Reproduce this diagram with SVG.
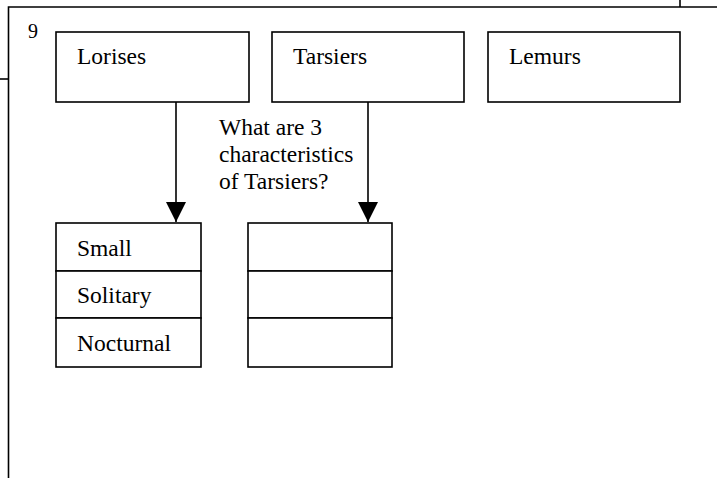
<svg xmlns="http://www.w3.org/2000/svg" width="717" height="478" viewBox="0 0 717 478">
<style>
.box{fill:#fff;stroke:#000;stroke-width:1.6}
.ln{fill:none;stroke:#000;stroke-width:1.6}
text{font-family:"Liberation Serif","Times New Roman",serif;font-size:23.5px;fill:#000}
</style>
<defs>
<marker id="arr" markerWidth="20" markerHeight="20" refX="20" refY="10" orient="auto" markerUnits="userSpaceOnUse">
<path d="M0,0 L20,10 L0,20 Z" fill="#000"/>
</marker>
</defs>
<g id="frame">
<path class="ln" d="M8.5,478 L8.5,7 L717,7"/>
<path class="ln" d="M680,0 L680,7"/>
<path class="ln" d="M0,79 L8.5,79"/>
<text x="28" y="38" style="font-size:20px">9</text>
</g>
<g id="connectors">
<line class="ln" x1="176" y1="102" x2="176" y2="222" marker-end="url(#arr)"/>
<line class="ln" x1="368" y1="102" x2="368" y2="222" marker-end="url(#arr)"/>
</g>
<g id="lorises">
<rect class="box" x="56" y="32" width="193" height="70"/>
<text x="77" y="64">Lorises</text>
</g>
<g id="tarsiers">
<rect class="box" x="272" y="32" width="192" height="70"/>
<text x="293" y="64">Tarsiers</text>
</g>
<g id="lemurs">
<rect class="box" x="488" y="32" width="192" height="70"/>
<text x="509" y="64">Lemurs</text>
</g>
<g id="question">
<text x="219" y="135">What are 3</text>
<text x="219" y="162">characteristics</text>
<text x="219" y="189">of Tarsiers?</text>
</g>
<g id="lorises-traits">
<rect class="box" x="56" y="223" width="145" height="48"/>
<rect class="box" x="56" y="271" width="145" height="47"/>
<rect class="box" x="56" y="318" width="145" height="49"/>
<text x="77" y="256">Small</text>
<text x="77" y="303">Solitary</text>
<text x="77" y="351">Nocturnal</text>
</g>
<g id="tarsiers-traits">
<rect class="box" x="248" y="223" width="144" height="48"/>
<rect class="box" x="248" y="271" width="144" height="47"/>
<rect class="box" x="248" y="318" width="144" height="49"/>
</g>
</svg>
